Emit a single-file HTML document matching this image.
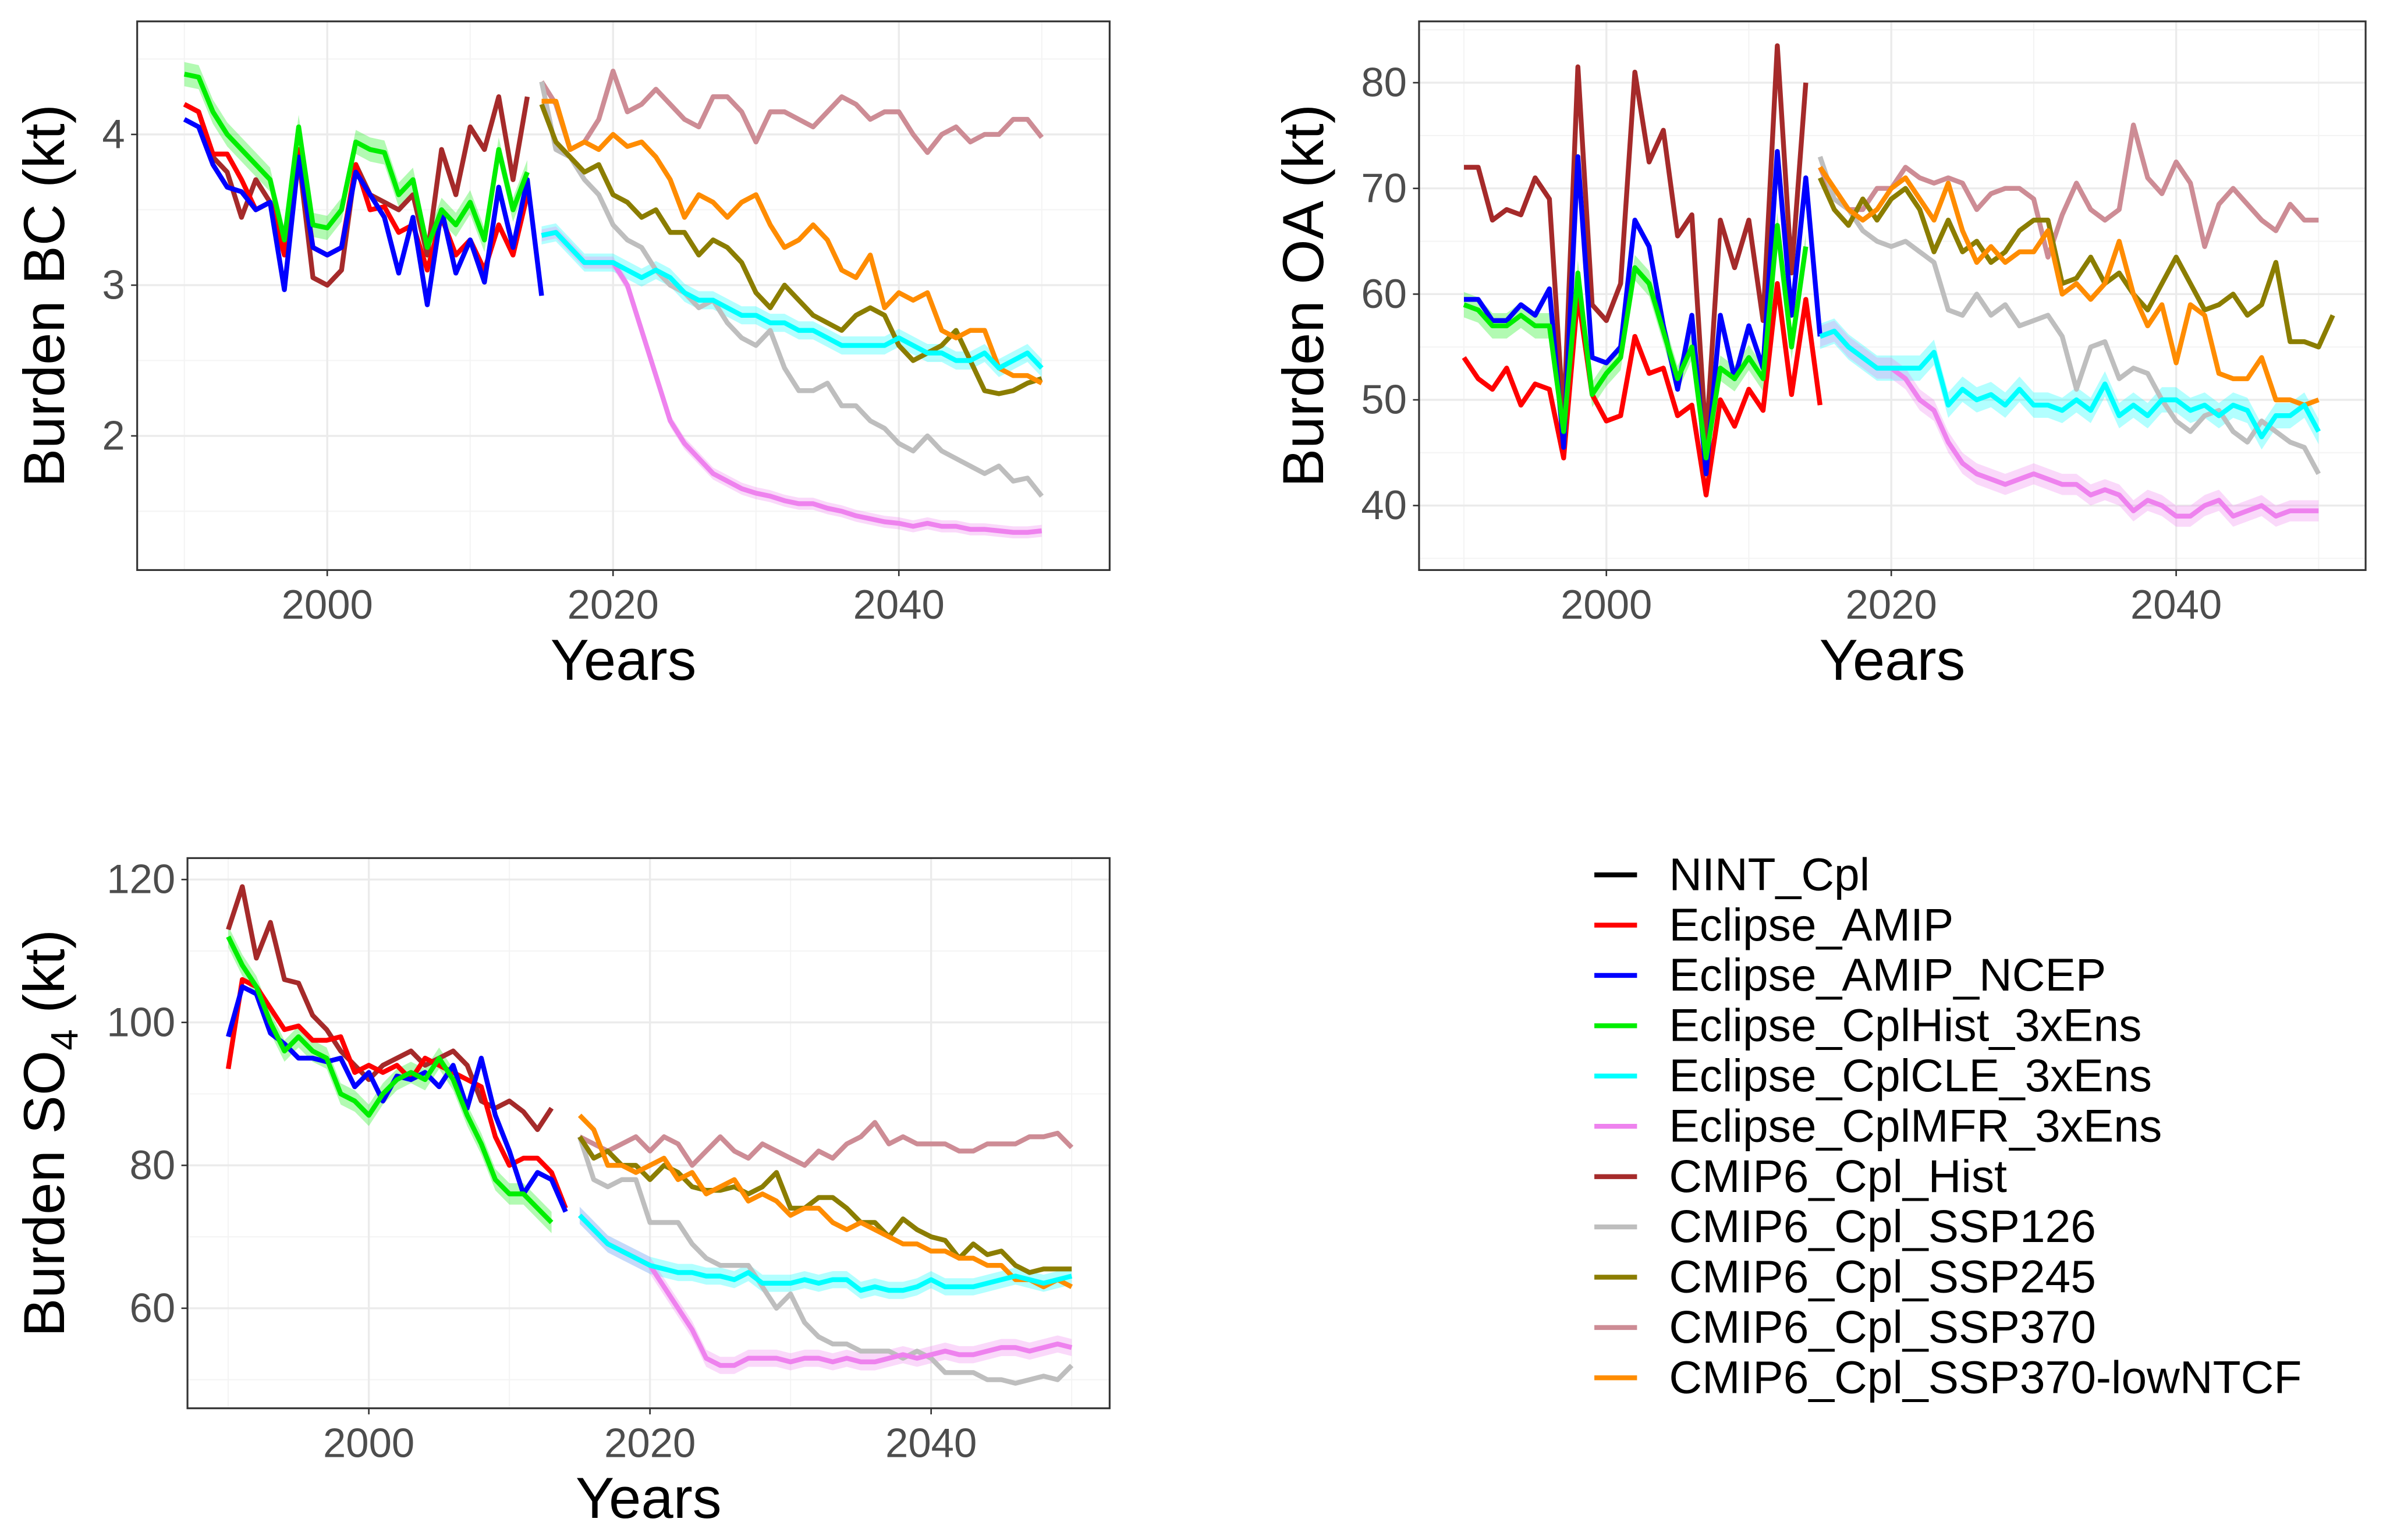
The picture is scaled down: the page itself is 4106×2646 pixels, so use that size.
<!DOCTYPE html>
<html><head><meta charset="utf-8"><style>
html,body{margin:0;padding:0;background:#fff}
svg{display:block;font-family:"Liberation Sans",Arial,sans-serif}
</style></head><body>
<svg id="chart" width="4106" height="2646" viewBox="0 0 1568 1010.4" xmlns="http://www.w3.org/2000/svg"></svg>
<script>
// ---------- DATA ----------
const legendNames = ["NINT_Cpl","Eclipse_AMIP","Eclipse_AMIP_NCEP","Eclipse_CplHist_3xEns","Eclipse_CplCLE_3xEns","Eclipse_CplMFR_3xEns","CMIP6_Cpl_Hist","CMIP6_Cpl_SSP126","CMIP6_Cpl_SSP245","CMIP6_Cpl_SSP370","CMIP6_Cpl_SSP370-lowNTCF"];
const xTicks = [2000,2020,2040];
const bcTicks = [2,3,4];
const oaTicks = [40,50,60,70,80];
const so4Ticks = [60,80,100,120];

const bcAmip = [4.2,4.15,3.87,3.87,3.7,3.5,3.55,3.2,3.9,3.25,3.2,3.25,3.8,3.5,3.52,3.35,3.4,3.1,3.45,3.2,3.3,3.1,3.4,3.2,3.6];
const bcNcep = [4.1,4.05,3.8,3.65,3.62,3.5,3.55,2.97,3.85,3.25,3.2,3.25,3.75,3.6,3.45,3.08,3.45,2.87,3.5,3.08,3.3,3.02,3.65,3.25,3.7,2.93];
const bcCplHist = [4.4,4.38,4.15,4.0,3.9,3.8,3.7,3.3,4.05,3.4,3.38,3.5,3.95,3.9,3.88,3.6,3.7,3.25,3.5,3.4,3.55,3.3,3.9,3.5,3.75];
const bcHist = [4.2,4.15,3.85,3.75,3.45,3.7,3.55,3.3,3.85,3.05,3.0,3.1,3.8,3.6,3.55,3.5,3.6,3.2,3.9,3.6,4.05,3.9,4.25,3.7,4.25];
const bcCle = [3.33,3.35,3.25,3.15,3.15,3.15,3.1,3.05,3.1,3.05,2.95,2.9,2.9,2.85,2.8,2.8,2.75,2.75,2.7,2.7,2.65,2.6,2.6,2.6,2.6,2.65,2.6,2.55,2.55,2.5,2.5,2.55,2.45,2.5,2.55,2.45];
const bcMfr = [3.33,3.35,3.25,3.15,3.15,3.15,3.0,2.7,2.4,2.1,1.95,1.85,1.75,1.7,1.65,1.62,1.6,1.57,1.55,1.55,1.52,1.5,1.47,1.45,1.43,1.42,1.4,1.42,1.4,1.4,1.38,1.38,1.37,1.36,1.36,1.37];
const bcSsp126 = [4.35,3.9,3.85,3.7,3.6,3.4,3.3,3.25,3.1,3.0,2.95,2.85,2.9,2.75,2.65,2.6,2.7,2.45,2.3,2.3,2.35,2.2,2.2,2.1,2.05,1.95,1.9,2.0,1.9,1.85,1.8,1.75,1.8,1.7,1.72,1.6];
const bcSsp245 = [4.2,3.95,3.85,3.75,3.8,3.6,3.55,3.45,3.5,3.35,3.35,3.2,3.3,3.25,3.15,2.95,2.85,3.0,2.9,2.8,2.75,2.7,2.8,2.85,2.8,2.6,2.5,2.55,2.6,2.7,2.5,2.3,2.28,2.3,2.35,2.38];
const bcSsp370 = [4.35,4.2,3.9,3.95,4.1,4.42,4.15,4.2,4.3,4.2,4.1,4.05,4.25,4.25,4.15,3.95,4.15,4.15,4.1,4.05,4.15,4.25,4.2,4.1,4.15,4.15,4.0,3.88,4.0,4.05,3.95,4.0,4.0,4.1,4.1,3.98];
const bcLow = [4.22,4.22,3.9,3.95,3.9,4.0,3.92,3.95,3.85,3.7,3.45,3.6,3.55,3.45,3.55,3.6,3.4,3.25,3.3,3.4,3.3,3.1,3.05,3.2,2.85,2.95,2.9,2.95,2.7,2.65,2.7,2.7,2.45,2.4,2.4,2.35];

const oaAmip = [54,52,51,53,49.5,51.5,51,44.5,60,50.5,48,48.5,56,52.5,53,48.5,49.5,41,50,47.5,51,49,61,50.5,59.5,49.5];
const oaNcep = [59.5,59.5,57.5,57.5,59,58,60.5,45.5,73,54,53.5,55,67,64.5,57,51,58,43,58,52,57,53,73.5,58,71,56];
const oaCplHist = [59,58.5,57,57,58,57,57,47,62,50.5,52.5,54,62.5,61,56.5,52,55,44.5,53,52,54,52,66.5,55,64.5];
const oaHist = [72,72,67,68,67.5,71,69,48,81.5,59,57.5,61,81,72.5,75.5,65.5,67.5,46,67,62.5,67,57.5,83.5,62,80];
const oaCle = [56,56.5,55,54,53,53,53,53,54.5,49.5,51,50,50.5,49.5,51,49.5,49.5,49,50,49,51.5,48.5,49.5,48.5,50,50,49,49.5,48.5,49.5,49,46.5,48.5,48.5,49.5,47];
const oaMfr = [56,56.5,55,54,53,53,52,50,49,46,44,43,42.5,42,42.5,43,42.5,42,42,41,41.5,41,39.5,40.5,40,39,39,40,40.5,39,39.5,40,39,39.5,39.5,39.5];
const oaSsp126 = [73,69,68,66,65,64.5,65,64,63,58.5,58,60,58,59,57,57.5,58,56,51,55,55.5,52,53,52.5,50,48,47,48.5,49,47,46,48,47,46,45.5,43];
const oaSsp245 = [71,68,66.5,69,67,69,70,68,64,67,64,65,63,64,66,67,67,61,61.5,63.5,61,62,60,58.5,61,63.5,61,58.5,59,60,58,59,63,55.5,55.5,55,58];
const oaSsp370 = [72,69,68,68,70,70,72,71,70.5,71,70.5,68,69.5,70,70,69,63.5,67.5,70.5,68,67,68,76,71,69.5,72.5,70.5,64.5,68.5,70,68.5,67,66,68.5,67,67];
const oaLow = [72,70,68,67,68,70,71,69,67,70.5,66,63,64.5,63,64,64,66,60,61,59.5,61,65,60,57,59,53.5,59,58,52.5,52,52,54,50,50,49.5,50];

const soAmip = [93.5,106,105,102,99,99.5,97.5,97.5,98,93,94,93,94,92,95,94,93,92,91,84,80,81,81,79,74];
const soNcep = [98,105,104,98.5,97,95,95,94.5,95,91,93,89,92.5,92,93,91,94,88,95,87,82,76,79,78,73.5];
const soCplHist = [112,108,105,100,96,98,96,95,90,89,87,90,92,93,92,95,92,87,83,78,76,76,74,72];
const soHist = [113,119,109,114,106,105.5,101,99,96,94,92,94,95,96,94,95,96,94,89,88,89,87.5,85,88];
const soCle = [73,71,69,68,67,66,65.5,65,65,64.5,64.5,64,65,63.5,63.5,63.5,64,63.5,64,64,62.5,63,62.5,62.5,63,64,63,63,63,63.5,64,64.5,64,63.5,64,64.5];
const soMfr = [73,71,69,68,67,66,63,60,57,53,52,52,53,53,53,52.5,53,53,52.5,53,52.5,52.5,53,53.5,53,53.5,54,53.5,53.5,54,54.5,54.5,54,54.5,55,54.5];
const soSsp126 = [84,78,77,78,78,72,72,72,69,67,66,66,66,63,60,62,58,56,55,55,54,54,54,53,54,53,51,51,51,50,50,49.5,50,50.5,50,52];
const soSsp245 = [84,81,82,80,80,78,80,79,77,76.5,76.5,77,76,77,79,74,74,75.5,75.5,74,72,72,70,72.5,71,70,69.5,67,69,67.5,68,66,65,65.5,65.5,65.5];
const soSsp370 = [84,83,82,83,84,82,84,83,80,82,84,82,81,83,82,81,80,82,81,83,84,86,83,84,83,83,83,82,82,83,83,83,84,84,84.5,82.5];
const soLow = [87,85,80,80,79,80,81,78,79,76,77,78,75,76,75,73,74,74,72,71,72,71,70,69,69,68,68,67,67,66,66,64,64,63,64,63];

// ---------- DRAWING ----------
const NS = "http://www.w3.org/2000/svg";
const svg = document.getElementById('chart');
function mk(tag, attrs, parent){ const e=document.createElementNS(NS,tag); for(const k in attrs) e.setAttribute(k,attrs[k]); (parent||svg).appendChild(e); return e; }
const COL = {amip:"#ff0000",ncep:"#0000ff",cplhist:"#00ee00",cle:"#00ffff",mfr:"#ee82ee",hist:"#a52a2a",s126:"#bebebe",s245:"#8b7d00",s370:"#cd8c95",low:"#ff8c00",nint:"#000000"};

function panel(cfg){
  const g = mk('g',{});
  
  
  const {x0,x1,y0,y1,xmin,xmax,ymin,ymax} = cfg;
  const sx = v => x0 + (v-xmin)/(xmax-xmin)*(x1-x0);
  const sy = v => y1 - (v-ymin)/(ymax-ymin)*(y1-y0);
  mk('rect',{x:x0,y:y0,width:x1-x0,height:y1-y0,fill:'#fff'},g);
  [1990,2010,2030,2050].forEach(t=>{ if(t>xmin&&t<xmax){ const l=mk('line',{x1:sx(t),x2:sx(t),y1:y0,y2:y1,stroke:'#f4f4f4','stroke-width':0.8},g);   }});
  const st = cfg.ticks[1]-cfg.ticks[0];
  for(let v=cfg.ticks[0]-st/2; v<ymax; v+=st){ if(v>ymin){ const l=mk('line',{x1:x0,x2:x1,y1:sy(v),y2:sy(v),stroke:'#f4f4f4','stroke-width':0.8},g);   } }
  xTicks.forEach(t=>{ const l=mk('line',{x1:sx(t),x2:sx(t),y1:y0,y2:y1,stroke:'#ebebeb','stroke-width':1.3},g);  
    const tk=mk('line',{x1:sx(t),x2:sx(t),y1:y1,y2:y1+4,stroke:'#333','stroke-width':1},g);  
    const tx=mk('text',{x:sx(t),y:y1+32,'text-anchor':'middle','font-size':27,fill:'#4d4d4d'},g); tx.textContent=t;   });
  cfg.ticks.forEach(t=>{ const l=mk('line',{x1:x0,x2:x1,y1:sy(t),y2:sy(t),stroke:'#ebebeb','stroke-width':1.3},g);  
    const tk=mk('line',{x1:x0-4,x2:x0,y1:sy(t),y2:sy(t),stroke:'#333','stroke-width':1},g);  
    const tx=mk('text',{x:x0-8,y:sy(t)+9,'text-anchor':'end','font-size':27,fill:'#4d4d4d'},g); tx.textContent=t;   });
  cfg.ribbons.forEach(r=>{
    const pts=[]; r.vals.forEach((v,i)=>pts.push(sx(r.start+i)+','+sy(v+r.w)));
    for(let i=r.vals.length-1;i>=0;i--) pts.push(sx(r.start+i)+','+sy(r.vals[i]-r.w));
    const p=mk('polygon',{points:pts.join(' '),fill:r.col,opacity:0.3},g);
     
  });
  cfg.series.forEach(s=>{
    const pts=s.vals.map((v,i)=>sx(s.start+i)+','+sy(v)).join(' ');
    const p=mk('polyline',{points:pts,fill:'none',stroke:s.col,'stroke-width':3.2,'stroke-linejoin':'round'},g);
     
  });
  const b=mk('rect',{x:x0,y:y0,width:x1-x0,height:y1-y0,fill:'none',stroke:'#333','stroke-width':1.2},g);
   
  const xt=mk('text',{x:(x0+x1)/2,y:y1+72,'text-anchor':'middle','font-size':38,fill:'#000'},g); xt.textContent='Years';
   
  const yt=mk('text',{x:0,y:0,'text-anchor':'middle','font-size':38,fill:'#000',transform:`translate(${cfg.ytx},${(y0+y1)/2}) rotate(-90)`},g);
  yt.innerHTML=cfg.ytitle;  
}
function mkSeries(a,n,c,cl,m,h,s1,s2,s3,lo){
  return [
    {id:'cmip6-hist',col:COL.hist,start:1990,vals:h},
    {id:'eclipse-amip',col:COL.amip,start:1990,vals:a},
    {id:'eclipse-amip-ncep',col:COL.ncep,start:1990,vals:n},
    {id:'eclipse-cplhist',col:COL.cplhist,start:1990,vals:c},
    {id:'ssp370',col:COL.s370,start:2015,vals:s3},
    {id:'ssp126',col:COL.s126,start:2015,vals:s1},
    {id:'ssp245',col:COL.s245,start:2015,vals:s2},
    {id:'ssp370-lowntcf',col:COL.low,start:2015,vals:lo},
    {id:'eclipse-cplmfr',col:COL.mfr,start:2015,vals:m},
    {id:'eclipse-cplcle',col:COL.cle,start:2015,vals:cl}
  ];
}
panel({name:'bc-panel',x0:90,x1:728,y0:14,y1:374,xmin:1986.7,xmax:2054.75,ymin:1.11,ymax:4.75,ticks:bcTicks,ytx:42,ytitle:'Burden BC (kt)',
  ribbons:[{col:COL.cplhist,start:1990,vals:bcCplHist,w:0.08},{col:COL.cle,start:2015,vals:bcCle,w:0.06},{col:COL.mfr,start:2015,vals:bcMfr,w:0.04}],
  series:mkSeries(bcAmip,bcNcep,bcCplHist,bcCle,bcMfr,bcHist,bcSsp126,bcSsp245,bcSsp370,bcLow)});
panel({name:'oa-panel',x0:931,x1:1552,y0:14,y1:374,xmin:1986.85,xmax:2053.3,ymin:33.9,ymax:85.8,ticks:oaTicks,ytx:868,ytitle:'Burden OA  (kt)',
  ribbons:[{col:COL.cplhist,start:1990,vals:oaCplHist,w:1.2},{col:COL.cle,start:2015,vals:oaCle,w:1.2},{col:COL.mfr,start:2015,vals:oaMfr,w:1.0}],
  series:mkSeries(oaAmip,oaNcep,oaCplHist,oaCle,oaMfr,oaHist,oaSsp126,oaSsp245,oaSsp370,oaLow)});
panel({name:'so4-panel',x0:123,x1:728,y0:563,y1:924,xmin:1987.1,xmax:2052.7,ymin:46,ymax:123,ticks:so4Ticks,ytx:42,ytitle:'Burden SO<tspan font-size="25" dy="9">4</tspan><tspan dy="-9"> (kt)</tspan>',
  ribbons:[{col:COL.cplhist,start:1990,vals:soCplHist,w:1.5},{col:COL.cle,start:2015,vals:soCle,w:1.2},{col:COL.mfr,start:2015,vals:soMfr,w:1.2}],
  series:mkSeries(soAmip,soNcep,soCplHist,soCle,soMfr,soHist,soSsp126,soSsp245,soSsp370,soLow)});

const legCols=[COL.nint,COL.amip,COL.ncep,COL.cplhist,COL.cle,COL.mfr,COL.hist,COL.s126,COL.s245,COL.s370,COL.low];
const lg=mk('g',{});


legendNames.forEach((n,i)=>{
  const y=574+i*33;
  const l=mk('line',{x1:1046,x2:1074,y1:y,y2:y,stroke:legCols[i],'stroke-width':3.2},lg);
   
  const t=mk('text',{x:1095,y:y+10,'font-size':30,fill:'#000'},lg); t.textContent=n;
   
});
</script>
</body></html>
